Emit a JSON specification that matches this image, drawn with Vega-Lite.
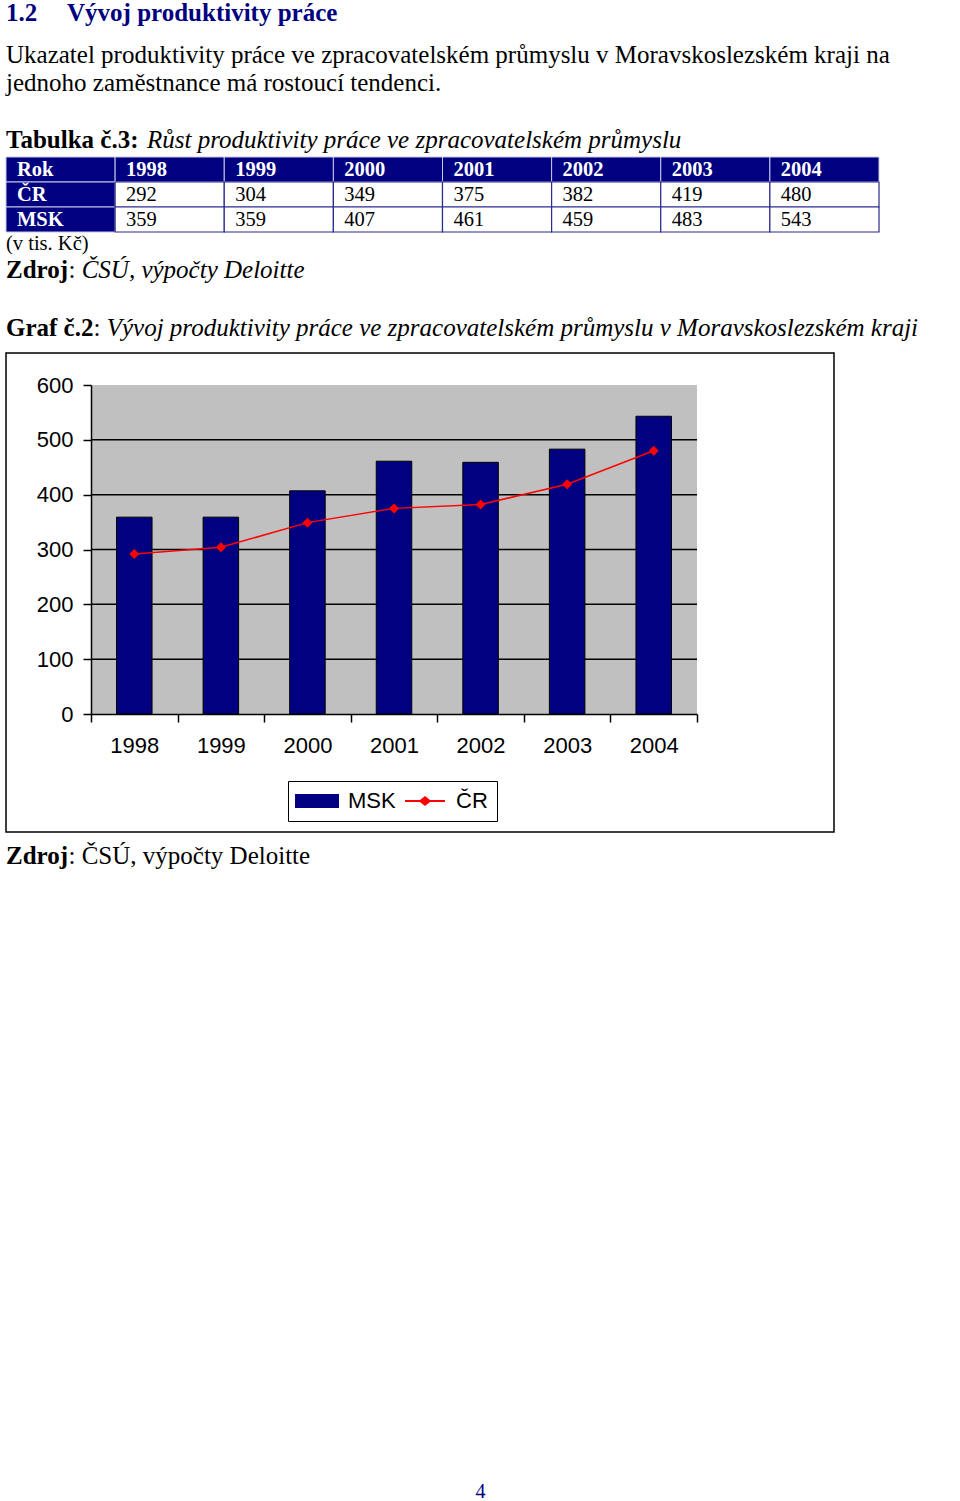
{
  "$schema": "https://vega.github.io/schema/vega-lite/v6.json",
  "padding": {"left": 5, "top": 0, "right": 0, "bottom": 0},
  "background": "white",
  "bounds": "flush",
  "spacing": 0,
  "config": {
    "view": {"stroke": null},
    "concat": {"spacing": 0},
    "scale": {"continuousPadding": 0},
    "font": "Liberation Serif",
    "text": {"font": "Liberation Serif", "fontSize": 25, "align": "left", "baseline": "middle", "color": "black"}
  },
  "datasets": {
    "prod": [
      {"year": 1998, "series": "ČR", "value": 292},
      {"year": 1999, "series": "ČR", "value": 304},
      {"year": 2000, "series": "ČR", "value": 349},
      {"year": 2001, "series": "ČR", "value": 375},
      {"year": 2002, "series": "ČR", "value": 382},
      {"year": 2003, "series": "ČR", "value": 419},
      {"year": 2004, "series": "ČR", "value": 480},
      {"year": 1998, "series": "MSK", "value": 359},
      {"year": 1999, "series": "MSK", "value": 359},
      {"year": 2000, "series": "MSK", "value": 407},
      {"year": 2001, "series": "MSK", "value": 461},
      {"year": 2002, "series": "MSK", "value": 459},
      {"year": 2003, "series": "MSK", "value": 483},
      {"year": 2004, "series": "MSK", "value": 543}
    ],
    "rows": [{"r": "Rok"}, {"r": "ČR"}, {"r": "MSK"}]
  },
  "vconcat": [
    {
      "width": 955, "height": 26,
      "layer": [
        {"data": {"values": [{"t": "1.2"}]},
         "mark": {"type": "text", "fontWeight": "bold", "color": "#000080"},
         "encoding": {"x": {"value": 0}, "text": {"field": "t", "type": "nominal"}}},
        {"data": {"values": [{"t": "Vývoj produktivity práce"}]},
         "mark": {"type": "text", "fontWeight": "bold", "color": "#000080", "dx": 61},
         "encoding": {"x": {"value": 0}, "text": {"field": "t", "type": "nominal"}}}
      ]
    },
    {"width": 955, "height": 58,
     "data": {"values": [{"t": "Ukazatel produktivity práce ve zpracovatelském průmyslu v Moravskoslezském kraji na"}]},
     "mark": {"type": "text"},
     "encoding": {"x": {"value": 0}, "text": {"field": "t", "type": "nominal"}}},
    {"width": 955, "height": 14.5,
     "data": {"values": [{"t": "jednoho zaměstnance má rostoucí tendenci."}]},
     "mark": {"type": "text", "baseline": "alphabetic"},
     "encoding": {"x": {"value": 0}, "text": {"field": "t", "type": "nominal"}}},
    {
      "width": 955, "height": 57.5,
      "layer": [
        {"data": {"values": [{"t": "Tabulka č.3:"}]},
         "mark": {"type": "text", "fontWeight": "bold", "baseline": "top"},
         "encoding": {"x": {"value": 0}, "text": {"field": "t", "type": "nominal"}}},
        {"data": {"values": [{"t": "Růst produktivity práce ve zpracovatelském průmyslu"}]},
         "mark": {"type": "text", "fontStyle": "italic", "baseline": "top", "dx": 141},
         "encoding": {"x": {"value": 0}, "text": {"field": "t", "type": "nominal"}}}
      ]
    },
    {
      "width": 873, "height": 75,
      "layer": [
        {"data": {"name": "rows"},
         "mark": {"type": "rect", "fill": "#000080", "stroke": "#c8c8e6", "strokeWidth": 1},
         "encoding": {
           "x": {"datum": "Rok", "type": "nominal", "axis": null,
                 "scale": {"domain": ["Rok", 1998, 1999, 2000, 2001, 2002, 2003, 2004], "paddingInner": 0, "paddingOuter": 0}},
           "y": {"field": "r", "type": "nominal", "axis": null,
                 "scale": {"domain": ["Rok", "ČR", "MSK"], "paddingInner": 0, "paddingOuter": 0}}}},
        {"data": {"name": "prod"}, "transform": [{"filter": "datum.series === 'ČR'"}],
         "mark": {"type": "rect", "fill": "#000080", "stroke": "#c8c8e6", "strokeWidth": 1},
         "encoding": {
           "x": {"field": "year", "type": "nominal"},
           "y": {"datum": "Rok", "type": "nominal"}}},
        {"data": {"name": "prod"},
         "mark": {"type": "rect", "fill": "white", "stroke": "#2b2b8f", "strokeWidth": 1.2},
         "encoding": {
           "x": {"field": "year", "type": "nominal"},
           "y": {"field": "series", "type": "nominal"}}},
        {"data": {"name": "rows"},
         "mark": {"type": "text", "fontSize": 20.5, "fontWeight": "bold", "color": "white"},
         "encoding": {
           "x": {"datum": "Rok", "type": "nominal", "bandPosition": 0.1},
           "y": {"field": "r", "type": "nominal"},
           "text": {"field": "r", "type": "nominal"}}},
        {"data": {"name": "prod"}, "transform": [{"filter": "datum.series === 'ČR'"}],
         "mark": {"type": "text", "fontSize": 20.5, "fontWeight": "bold", "color": "white"},
         "encoding": {
           "x": {"field": "year", "type": "nominal", "bandPosition": 0.1},
           "y": {"datum": "Rok", "type": "nominal"},
           "text": {"field": "year", "type": "nominal"}}},
        {"data": {"name": "prod"},
         "mark": {"type": "text", "fontSize": 20.5, "color": "black"},
         "encoding": {
           "x": {"field": "year", "type": "nominal", "bandPosition": 0.1},
           "y": {"field": "series", "type": "nominal"},
           "text": {"field": "value", "type": "quantitative"}}}
      ]
    },
    {"width": 955, "height": 4,
     "data": {"values": [{"t": "(v tis. Kč)"}]},
     "mark": {"type": "text", "fontSize": 20.5, "baseline": "top"},
     "encoding": {"x": {"value": 0}, "text": {"field": "t", "type": "nominal"}}},
    {
      "width": 955, "height": 67.4,
      "layer": [
        {"data": {"values": [{"t": "Zdroj"}]},
         "mark": {"type": "text", "fontWeight": "bold"},
         "encoding": {"x": {"value": 0}, "text": {"field": "t", "type": "nominal"}}},
        {"data": {"values": [{"t": ":"}]},
         "mark": {"type": "text", "dx": 62.5},
         "encoding": {"x": {"value": 0}, "text": {"field": "t", "type": "nominal"}}},
        {"data": {"values": [{"t": "ČSÚ, výpočty Deloitte"}]},
         "mark": {"type": "text", "fontStyle": "italic", "dx": 75.7},
         "encoding": {"x": {"value": 0}, "text": {"field": "t", "type": "nominal"}}}
      ]
    },
    {
      "width": 955, "height": 48.6,
      "layer": [
        {"data": {"values": [{"t": "Graf č.2"}]},
         "mark": {"type": "text", "fontWeight": "bold"},
         "encoding": {"x": {"value": 0}, "text": {"field": "t", "type": "nominal"}}},
        {"data": {"values": [{"t": ":"}]},
         "mark": {"type": "text", "dx": 87.5},
         "encoding": {"x": {"value": 0}, "text": {"field": "t", "type": "nominal"}}},
        {"data": {"values": [{"t": "Vývoj produktivity práce ve zpracovatelském průmyslu v Moravskoslezském kraji"}]},
         "mark": {"type": "text", "fontStyle": "italic", "dx": 100.7},
         "encoding": {"x": {"value": 0}, "text": {"field": "t", "type": "nominal"}}}
      ]
    },
    {
      "width": 828, "height": 479,
      "view": {"stroke": "black", "strokeWidth": 1.5, "fill": "white"},
      "layer": [
        {"data": {"values": [{}]},
         "mark": {"type": "rect", "fill": "#c0c0c0"},
         "encoding": {
           "x": {"datum": 1997.5, "type": "quantitative", "scale": {"domain": [1997.5, 2004.5], "range": [85, 691], "nice": false, "zero": false, "padding": 0}},
           "x2": {"datum": 2004.5},
           "y": {"datum": 0, "type": "quantitative", "scale": {"domain": [0, 600], "range": [361, 32], "nice": false, "padding": 0}},
           "y2": {"datum": 600}}},
        {"data": {"values": [{"v": 100}, {"v": 200}, {"v": 300}, {"v": 400}, {"v": 500}]},
         "mark": {"type": "rule", "color": "black", "strokeWidth": 1.5},
         "encoding": {
           "x": {"datum": 1997.5, "type": "quantitative"},
           "x2": {"datum": 2004.5},
           "y": {"field": "v", "type": "quantitative"}}},
        {"data": {"name": "prod"}, "transform": [{"filter": "datum.series === 'MSK'"}],
         "mark": {"type": "bar", "fill": "#000080", "stroke": "black", "strokeWidth": 1, "width": 35.5},
         "encoding": {
           "x": {"field": "year", "type": "quantitative",
                 "axis": {"orient": "bottom", "offset": -118, "title": null, "grid": false,
                          "values": [1997.5, 1998.5, 1999.5, 2000.5, 2001.5, 2002.5, 2003.5, 2004.5],
                          "labelExpr": "datum.value < 2004 ? format(datum.value + 0.5, 'd') : ''",
                          "labelOffset": 43.29, "labelOverlap": false, "labelBound": false, "labelFlush": false,
                          "domainColor": "black", "domainWidth": 1.5, "tickColor": "black", "tickSize": 8, "tickWidth": 1.5,
                          "labelFont": "Liberation Sans", "labelFontSize": 22, "labelColor": "black", "labelPadding": 13, "zindex": 1}},
           "y": {"field": "value", "type": "quantitative",
                 "axis": {"orient": "left", "offset": -85, "title": null, "grid": false,
                          "values": [0, 100, 200, 300, 400, 500, 600],
                          "domainColor": "black", "domainWidth": 1.5, "tickColor": "black", "tickSize": 8, "tickWidth": 1.5,
                          "labelFont": "Liberation Sans", "labelFontSize": 22, "labelColor": "black", "labelPadding": 10, "zindex": 1}}}},
        {"data": {"name": "prod"}, "transform": [{"filter": "datum.series === 'ČR'"}],
         "mark": {"type": "line", "color": "#ff0000", "strokeWidth": 1.5},
         "encoding": {
           "x": {"field": "year", "type": "quantitative"},
           "y": {"field": "value", "type": "quantitative"}}},
        {"data": {"name": "prod"}, "transform": [{"filter": "datum.series === 'ČR'"}],
         "mark": {"type": "point", "filled": true, "shape": "diamond", "size": 100, "opacity": 1, "color": "#ff0000"},
         "encoding": {
           "x": {"field": "year", "type": "quantitative"},
           "y": {"field": "value", "type": "quantitative"}}},
        {"data": {"name": "prod"}, "transform": [{"filter": "datum.series === 'ČR'"}],
         "mark": {"type": "point", "filled": true, "size": 400, "opacity": 0},
         "encoding": {
           "x": {"field": "year", "type": "quantitative"},
           "y": {"field": "value", "type": "quantitative"},
           "color": {"field": "series", "type": "nominal",
                     "scale": {"domain": ["MSK", "ČR"], "range": ["#000080", "#ff0000"]},
                     "legend": {"title": null, "orient": "none", "legendX": 282, "legendY": 781,
                                "direction": "horizontal", "columns": 2,
                                "strokeColor": "black", "fillColor": "white", "padding": 9,
                                "symbolSize": 400, "symbolOpacity": 1, "symbolStrokeWidth": 0,
                                "symbolOffset": 9, "labelOffset": 20, "columnPadding": 9,
                                "labelFont": "Liberation Sans", "labelFontSize": 22, "labelColor": "black"}},
           "shape": {"field": "series", "type": "nominal",
                     "scale": {"domain": ["MSK", "ČR"], "range": ["M-2.2,-0.7H2.2V0.7H-2.2Z", "M-2,-0.1H-0.5L0,-0.5L0.5,-0.1H2V0.1H0.5L0,0.5L-0.5,0.1H-2Z"]},
                     "legend": {"title": null, "orient": "none", "legendX": 282, "legendY": 781,
                                "direction": "horizontal", "columns": 2,
                                "strokeColor": "black", "fillColor": "white", "padding": 9,
                                "symbolSize": 400, "symbolOpacity": 1, "symbolStrokeWidth": 0,
                                "symbolOffset": 9, "labelOffset": 20, "columnPadding": 9,
                                "labelFont": "Liberation Sans", "labelFontSize": 22, "labelColor": "black"}}}}
      ]
    },
    {
      "width": 955, "height": 48.4,
      "layer": [
        {"data": {"values": [{"t": "Zdroj"}]},
         "mark": {"type": "text", "fontWeight": "bold"},
         "encoding": {"x": {"value": 0}, "text": {"field": "t", "type": "nominal"}}},
        {"data": {"values": [{"t": ": ČSÚ, výpočty Deloitte"}]},
         "mark": {"type": "text", "dx": 62.5},
         "encoding": {"x": {"value": 0}, "text": {"field": "t", "type": "nominal"}}}
      ]
    },
    {"width": 955, "height": 599.6, "data": {"values": []}, "mark": "point"},
    {"width": 949, "height": 22,
     "data": {"values": [{"t": "4"}]},
     "mark": {"type": "text", "fontSize": 20, "align": "center", "color": "#000080"},
     "encoding": {"text": {"field": "t", "type": "nominal"}}}
  ]
}
